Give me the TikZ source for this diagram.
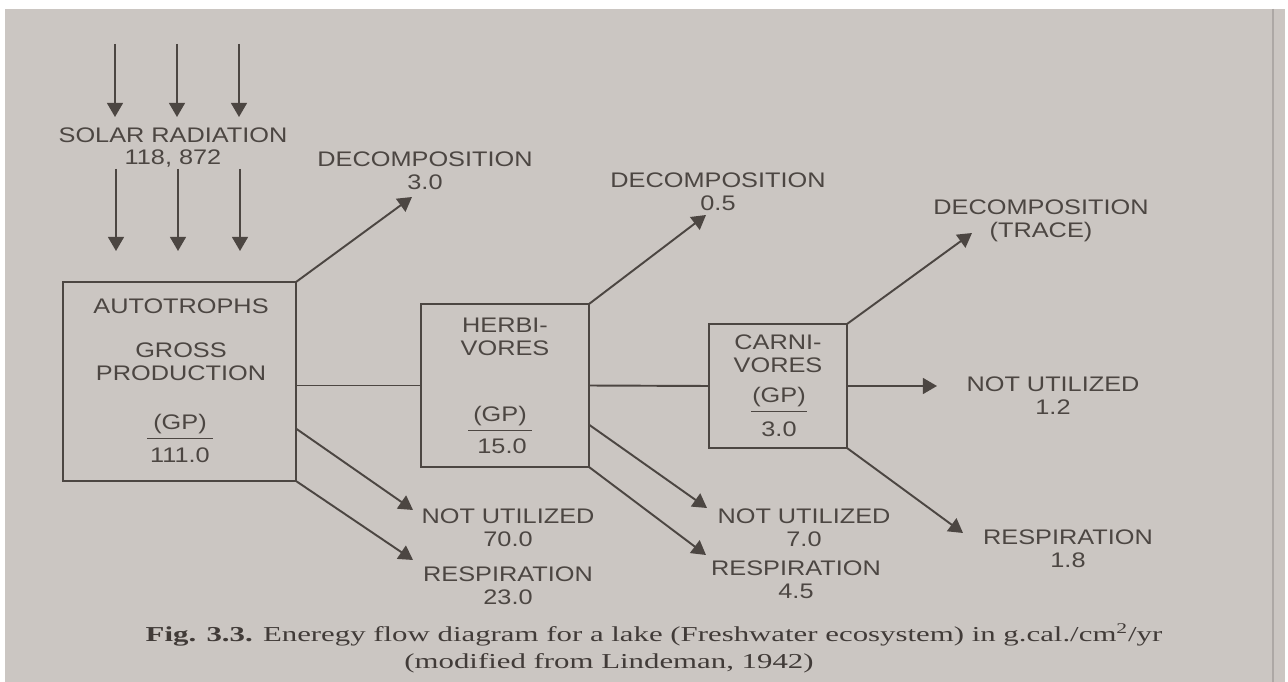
\documentclass[tikz,border=0pt]{standalone}
\usepackage{fontspec}
\setmainfont[FakeStretch=1.45]{Liberation Serif}
\newfontfamily\lblfont[FakeStretch=1.2]{Liberation Sans}
\usetikzlibrary{arrows.meta}
\definecolor{paper}{RGB}{203,198,194}
\definecolor{ink}{RGB}{76,70,66}

\begin{document}
\begin{tikzpicture}[x=0.02cm,y=-0.02cm]
\tikzstyle{box}=[draw=ink,line width=0.9pt,inner sep=0pt,outer sep=0pt]
\tikzstyle{lbl}=[text=ink,font=\lblfont\fontsize{12pt}{13pt}\selectfont,align=center,inner sep=0pt]
\tikzstyle{ratio}=[lbl,inner ysep=2.5pt]
\tikzstyle{flow}=[draw=ink,line width=1.1pt,-{Triangle[length=8pt,width=9pt]}]
\tikzstyle{link}=[draw=ink,line width=1.1pt]
\tikzstyle{caption}=[text=ink!85!black,font=\fontsize{12.1pt}{14pt}\selectfont,inner sep=0pt]
\useasboundingbox (0,0) rectangle (1288,682);
\fill[white] (0,0) rectangle (1288,682);
\fill[paper] (5,9) rectangle (1285,682);
\draw[paper!85!black,line width=0.6pt] (1273,9) -- (1273,682);

% solar input
\foreach \i/\x in {1/115,2/177,3/239} {
  \coordinate (s\i) at (\x,44);
  \coordinate (u\i) at (\x,117);
  \coordinate (l\i) at (\x+1,169);
  \coordinate (v\i) at (\x+1,251);
  \draw[flow] (s\i) -- (u\i);
  \draw[flow] (l\i) -- (v\i);
}
\node[lbl] (solar) at (173,147.5) {SOLAR RADIATION\\118, 872};

% trophic levels
\node[box,minimum width=4.66cm,minimum height=3.98cm] (auto) at (179.5,381.5) {};
\node[box,minimum width=3.36cm,minimum height=3.26cm] (herb) at (505,385.5) {};
\node[box,minimum width=2.76cm,minimum height=2.48cm] (carn) at (778,386) {};

\node[lbl] (autoname) at (181,306) {AUTOTROPHS};
\node[lbl] (autogross) at (181,361.5) {GROSS\\PRODUCTION};
\node[ratio,minimum width=1.3cm] (autogp) at (180,424) {(GP)};
\node[lbl] (autoval) at (180,455) {111.0};
\draw[ink,line width=0.8pt] (autogp.south west) -- (autogp.south east);

\node[lbl] (herbname) at (505,337) {HERBI-\\VORES};
\node[ratio,minimum width=1.26cm] (herbgp) at (500,416) {(GP)};
\node[lbl] (herbval) at (502,446) {15.0};
\draw[ink,line width=0.8pt] (herbgp.south west) -- (herbgp.south east);

\node[lbl] (carnname) at (778,353.5) {CARNI-\\VORES};
\node[ratio,minimum width=1.1cm] (carngp) at (779,397) {(GP)};
\node[lbl] (carnval) at (779,429) {3.0};
\draw[ink,line width=0.8pt] (carngp.south west) -- (carngp.south east);

% outputs
\node[lbl] (deca) at (425,170.5) {DECOMPOSITION\\3.0};
\node[lbl] (nuta) at (508,527.5) {NOT UTILIZED\\70.0};
\node[lbl] (resa) at (508,586) {RESPIRATION\\23.0};
\node[lbl] (decb) at (718,191.5) {DECOMPOSITION\\0.5};
\node[lbl] (nutb) at (804,527.5) {NOT UTILIZED\\7.0};
\node[lbl] (resb) at (796,579.5) {RESPIRATION\\4.5};
\node[lbl] (decc) at (1041,221) {DECOMPOSITION\\(TRACE)};
\node[lbl] (nutc) at (1053,395.5) {NOT UTILIZED\\1.2};
\node[lbl] (resc) at (1068,549) {RESPIRATION\\1.8};

\coordinate (tipda) at (412,197);
\coordinate (tipna) at (413,510);
\coordinate (tipra) at (413,560);
\coordinate (tipdb) at (706,215);
\coordinate (tipnb) at (707,508);
\coordinate (tiprb) at (706,555);
\coordinate (tipdc) at (972,233);
\coordinate (tipnc) at (937,386);
\coordinate (tiprc) at (963,533);

\draw[flow] (auto.north east) -- (tipda);
\draw[flow] (auto.-22) -- (tipna);
\draw[flow] (auto.south east) -- (tipra);
\draw[link] (auto.east |- herb.west) -- (herb.west);
\draw[flow] (herb.north east) -- (tipdb);
\draw[flow] (herb.-25) -- (tipnb);
\draw[flow] (herb.south east) -- (tiprb);
\draw[link] (herb.east) -- (carn.west);
\draw[flow] (carn.north east) -- (tipdc);
\draw[flow] (carn.east) -- (tipnc);
\draw[flow] (carn.south east) -- (tiprc);

% caption
\node[caption] (cap1) at (654,635) {\textbf{Fig. 3.3.} Eneregy flow diagram for a lake (Freshwater ecosystem) in g.cal./cm\textsuperscript{2}/yr};
\node[caption] (cap2) at (609,663) {(modified from Lindeman, 1942)};
\end{tikzpicture}
\end{document}
